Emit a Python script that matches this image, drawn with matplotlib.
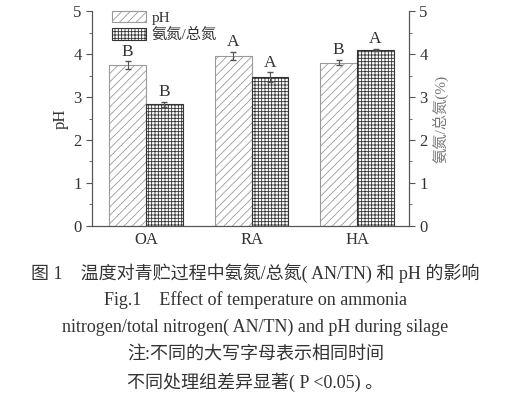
import matplotlib.pyplot as plt
import numpy as np
from matplotlib.ticker import MultipleLocator

plt.rcParams["font.family"] = ["Liberation Serif", "Noto Sans CJK SC"]
plt.rcParams["hatch.linewidth"] = 0.6

groups = ["OA", "RA", "HA"]
ph_vals = [3.74, 3.95, 3.80]
ph_err = [0.09, 0.10, 0.06]
an_vals = [2.83, 3.46, 4.10]
an_err = [0.06, 0.11, 0.02]
ph_letters = ["B", "A", "B"]
an_letters = ["B", "A", "A"]

TXT = "#333333"
AX = "#555555"

fig = plt.figure(figsize=(5.11, 3.99), dpi=100, facecolor="white")
ax = fig.add_axes([0.18, 0.4336, 0.62, 0.5388])
ax2 = ax.twinx()

x = np.arange(len(groups))
w = 0.35

ax.bar(x - w / 2, ph_vals, w, yerr=ph_err, color="white", edgecolor="#9a9a9a",
       hatch="////", linewidth=0.8, error_kw=dict(ecolor="#555555", elinewidth=0.8, capsize=2),
       label="pH")
ax.bar(x + w / 2, an_vals, w, yerr=an_err, color="white", edgecolor="#333333",
       hatch="+++++", linewidth=0.8, error_kw=dict(ecolor="#555555", elinewidth=0.8, capsize=2),
       label="氨氮/总氮")

for i in range(len(groups)):
    ax.text(x[i] - w / 2, ph_vals[i] + ph_err[i] + 0.04, ph_letters[i], ha="center",
            va="bottom", fontsize=12.5, color=TXT)
    ax.text(x[i] + w / 2, an_vals[i] + an_err[i] + 0.04, an_letters[i], ha="center",
            va="bottom", fontsize=12.5, color=TXT)

ax.set_xlim(-0.512, 2.49)
for a in (ax, ax2):
    a.set_ylim(0, 5)
    a.yaxis.set_major_locator(MultipleLocator(1))
    a.yaxis.set_minor_locator(MultipleLocator(0.5))
    a.spines["top"].set_visible(False)
    for s in a.spines.values():
        s.set_color(AX)
        s.set_linewidth(0.8)
    a.tick_params(axis="y", which="major", length=4, color=AX, labelsize=12, labelcolor=TXT)
    a.tick_params(axis="y", which="minor", length=2, color=AX)

ax.set_xticks(x)
ax.set_xticklabels(groups, fontsize=12, color=TXT)
ax.tick_params(axis="x", length=0, pad=4)
ax.set_ylabel("pH", fontsize=12, color=TXT, labelpad=3)
ax2.set_ylabel("氨氮/总氮(%)", fontsize=11, color="#777777", labelpad=3)

leg = ax.legend(loc="upper left", bbox_to_anchor=(0.02, 1.065), frameon=False, fontsize=11,
                handlelength=2.2, handleheight=0.8, handletextpad=0.4, labelspacing=0.2,
                labelcolor=TXT)

captions = [
    ("图 1    温度对青贮过程中氨氮/总氮( AN/TN) 和 pH 的影响", 0.316),
    ("Fig.1    Effect of temperature on ammonia", 0.248),
    ("nitrogen/total nitrogen( AN/TN) and pH during silage", 0.180),
    ("注:不同的大写字母表示相同时间", 0.113),
    ("不同处理组差异显著( P <0.05) 。", 0.043),
]
for txt, yy in captions:
    fig.text(0.5, yy, txt, ha="center", va="center", fontsize=13, color=TXT)

fig.savefig("out.png", dpi=100, facecolor="white")
